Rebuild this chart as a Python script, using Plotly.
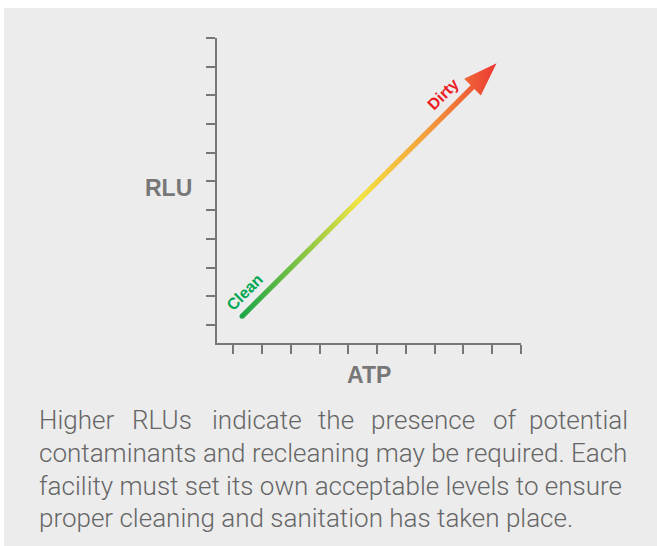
import numpy as np
import plotly.graph_objects as go

# ---- data ----
x_ticks = [0, 1, 2, 3, 4, 5, 6, 7, 8, 9, 10]
y_ticks = [0, 1, 2, 3, 4, 5, 6, 7, 8, 9, 10]
x_axis_title = "ATP"
y_axis_title = "RLU"
arrow_start = [0.30, 0.30]   # (ATP, RLU) at the clean end
arrow_tip = [9.15, 9.12]     # (ATP, RLU) at the arrow tip
end_labels = ["Clean", "Dirty"]
end_label_x = [0.42, 7.32]
end_label_y = [1.15, 8.05]
caption_line1 = ["Higher", "RLUs", "indicate", "the", "presence", "of", "potential"]
caption_lines = [
    "contaminants and recleaning may be required. Each",
    "facility must set its own acceptable levels to ensure",
    "proper cleaning and sanitation has taken place.",
]

# ---- geometry / style ----
W, H = 657, 546
L_M, R_M, T_M, B_M = 217, 136, 38, 203
PW, PH = W - L_M - R_M, H - T_M - B_M


def px_to_paper(px, py):
    return (px - L_M) / PW, (H - B_M - py) / PH


grad = [[0.0, "#1fa64a"], [0.2, "#74bf44"], [0.46, "#f2e444"],
        [0.72, "#f4a03c"], [1.0, "#ec3833"]]

S = np.array(arrow_start, float)
T = np.array(arrow_tip, float)
u = (T - S) / np.linalg.norm(T - S)
n = np.array([-u[1], u[0]])
shaft_hw, head_hw, head_len = 0.09, 0.41, 1.18
B = T - u * head_len
poly = [S + n * shaft_hw, B + n * shaft_hw, B + n * head_hw, T,
        B - n * head_hw, B - n * shaft_hw, S - n * shaft_hw, S + n * shaft_hw]
px_ = [p[0] for p in poly]
py_ = [p[1] for p in poly]

fig = go.Figure()
fig.add_trace(go.Scatter(
    x=px_, y=py_, mode="lines", fill="toself",
    line=dict(width=0, color="rgba(0,0,0,0)"),
    fillgradient=dict(type="horizontal", colorscale=grad,
                      start=float(S[0]), stop=float(T[0])),
    hoverinfo="skip", showlegend=False,
))
# round cap at clean end
fig.add_trace(go.Scatter(
    x=[S[0]], y=[S[1]], mode="markers",
    marker=dict(size=5, color=grad[0][1], line=dict(width=0)),
    hoverinfo="skip", showlegend=False,
))

axis_common = dict(showline=True, linecolor="#777777", linewidth=2,
                   ticks="outside", ticklen=9, tickwidth=2, tickcolor="#777777",
                   showticklabels=False, showgrid=False, zeroline=False,
                   fixedrange=True)
fig.update_xaxes(range=[-0.57, 10], tickvals=x_ticks, **axis_common)
fig.update_yaxes(range=[-0.63, 10], tickvals=y_ticks, **axis_common)

# grey panel
x0, y1 = px_to_paper(4, 8)
x1, y0 = px_to_paper(W + 5, H + 5)
fig.add_shape(type="rect", xref="paper", yref="paper", x0=x0, x1=x1, y0=y0, y1=y1,
              fillcolor="#ececec", line=dict(width=0), layer="below")

ann = []
bold = dict(family="Liberation Sans, Arial, sans-serif", size=23, color="#777777", weight="bold")
ax, ay = px_to_paper(168, 188)
ann.append(dict(x=ax, y=ay, xref="paper", yref="paper", text=y_axis_title,
                showarrow=False, font=bold, xanchor="center", yanchor="middle"))
ax, ay = px_to_paper(369, 375)
ann.append(dict(x=ax, y=ay, xref="paper", yref="paper", text=x_axis_title,
                showarrow=False, font=bold, xanchor="center", yanchor="middle"))

label_colors = ["#00a651", "#ed1c24"]
for t, lx, ly, c in zip(end_labels, end_label_x, end_label_y, label_colors):
    ann.append(dict(x=lx, y=ly, xref="x", yref="y", text=t, showarrow=False,
                    textangle=-45, xanchor="center", yanchor="middle",
                    font=dict(family="Liberation Sans, Arial, sans-serif", size=16,
                              color=c, weight="bold")))

cap_font = dict(family="Roboto, Liberation Sans, sans-serif", size=26,
                color="#666666", weight=300)
word_left = [38, 131, 211, 317, 370, 492]
for w, xl in zip(caption_line1[:-1], word_left):
    ax, ay = px_to_paper(xl, 420)
    ann.append(dict(x=ax, y=ay, xref="paper", yref="paper", text=w, showarrow=False,
                    xanchor="left", yanchor="middle", font=cap_font, borderpad=0))
ax, ay = px_to_paper(629, 420)
ann.append(dict(x=ax, y=ay, xref="paper", yref="paper", text=caption_line1[-1],
                showarrow=False, xanchor="right", yanchor="middle", font=cap_font,
                borderpad=0))
for i, line in enumerate(caption_lines):
    ax, ay = px_to_paper(38, 453 + 32.7 * i)
    ann.append(dict(x=ax, y=ay, xref="paper", yref="paper", text=line, showarrow=False,
                    xanchor="left", yanchor="middle", font=cap_font, borderpad=0))

fig.update_layout(
    width=W, height=H, margin=dict(l=L_M, r=R_M, t=T_M, b=B_M),
    paper_bgcolor="white", plot_bgcolor="rgba(0,0,0,0)",
    annotations=ann, showlegend=False,
)
fig.write_html("out.html", config={"displayModeBar": False},
               post_script="document.body.style.margin='0';")
